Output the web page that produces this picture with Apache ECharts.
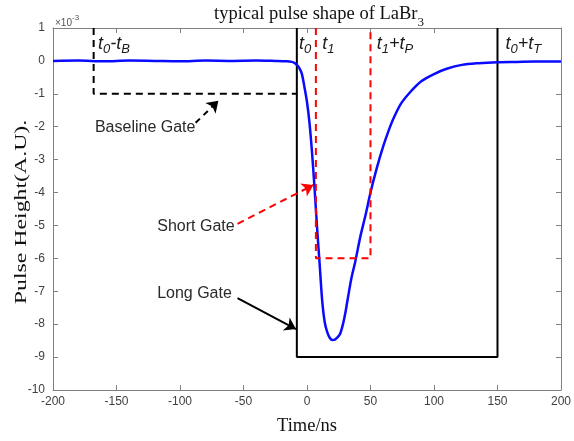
<!DOCTYPE html>
<html>
<head>
<meta charset="utf-8">
<script src="https://cdn.jsdelivr.net/npm/echarts@6/dist/echarts.min.js"></script>
<style>html,body{margin:0;padding:0;background:#fff}#c{width:574px;height:441px}</style>
</head>
<body>
<div id="c"></div>
<script>
// ---- data (time in ns, pulse height in units of 1e-3) ----
const timeNs = [-200,-180,-160,-140,-120,-100,-80,-60,-40,-25,-16,-12,-10,-8,-6,-4,-2,0,2,4,6,8,10,12,14,16,18,20,22,24,26,28,30,32,35,38,42,46,50,55,60,64,68,74,81,90,100,110,122,135,150,165,180,200];
const pulse  = [0,0.01,-0.01,0.01,0,-0.01,0.01,0,0.01,0,-0.01,-0.03,-0.06,-0.12,-0.22,-0.4,-0.8,-1.25,-1.9,-2.8,-3.9,-5.1,-6.2,-7.3,-7.95,-8.25,-8.42,-8.48,-8.47,-8.4,-8.3,-8.05,-7.7,-7.25,-6.6,-6.1,-5.34,-4.7,-4.0,-3.25,-2.6,-2.15,-1.76,-1.3,-0.96,-0.62,-0.4,-0.24,-0.12,-0.07,-0.04,-0.03,-0.02,-0.02];

// gate times (ns)
const t0 = -8, tB = 160, t1 = 7, tP = 43, tT = 158;
const baselineLevel = -1, shortLevel = -6, longLevel = -9;
const topLevel = 1;

const baselineGate = [[t0 - tB, topLevel], [t0 - tB, baselineLevel], [t0, baselineLevel]];
const longGate = [[t0, topLevel], [t0, longLevel], [t0 + tT, longLevel], [t0 + tT, topLevel]];
const shortGate = [[t1, topLevel], [t1, shortLevel], [t1 + tP, shortLevel], [t1 + tP, topLevel]];

const xMin = -200, xMax = 200, xInterval = 50;
const yMin = -10, yMax = 1, yInterval = 1;

const titleText = 'typical pulse shape of LaBr';
const titleSub = '3';
const xName = 'Time/ns';
const yName = 'Pulse Height(A.U).';

const pulseData = timeNs.map((t, i) => [t, pulse[i]]);

const axisColor = '#808080';
const labelColor = '#404040';

const tMain = {fontFamily: 'Liberation Sans', fontStyle: 'italic', fontSize: 18, lineHeight: 20, verticalAlign: 'top', color: '#1a1a1a'};
const tSub = {fontFamily: 'Liberation Sans', fontStyle: 'italic', fontSize: 13, lineHeight: 14, padding: [8, 0, 0, 0], verticalAlign: 'top', color: '#1a1a1a'};

function tLabel(x, y, fmt) {
  return {
    value: [x, y],
    label: {show: true, position: 'inside', align: 'left', verticalAlign: 'top', formatter: fmt, color: '#1a1a1a', rich: {m: tMain, s: tSub}}
  };
}
function gateLabel(x, y, text) {
  return {
    value: [x, y],
    label: {show: true, position: 'inside', align: 'left', verticalAlign: 'middle', formatter: text,
      fontFamily: 'Liberation Sans', fontSize: 16, color: '#2a2a2a'}
  };
}

const axisBase = {
  axisLine: {show: true, onZero: false, lineStyle: {color: axisColor, width: 1}},
  axisTick: {show: true, inside: true, length: 5, lineStyle: {color: axisColor}},
  splitLine: {show: false}
};

const chart = echarts.init(document.getElementById('c'), null, {renderer: 'canvas'});
chart.setOption({
  backgroundColor: '#fff',
  animation: false,
  title: {
    text: '{a|' + titleText + '}{s|' + titleSub + '}',
    left: 314, top: 0, textAlign: 'center',
    textStyle: {
      fontWeight: 'normal',
      rich: {
        a: {fontFamily: 'Liberation Serif', fontWeight: 'normal', fontSize: 18.5, lineHeight: 20, verticalAlign: 'top', color: '#111'},
        s: {fontFamily: 'Liberation Serif', fontWeight: 'normal', fontSize: 13, lineHeight: 13, padding: [11, 0, 0, 0], verticalAlign: 'top', color: '#111'}
      }
    }
  },
  graphic: [{
    type: 'text', left: 55, top: 14,
    style: {
      text: '{a|×10}{b|-3}',
      rich: {
        a: {fontFamily: 'Liberation Sans', fontSize: 10, lineHeight: 12, verticalAlign: 'bottom', fill: '#555'},
        b: {fontFamily: 'Liberation Sans', fontSize: 8, lineHeight: 8, padding: [0, 0, 6, 0], verticalAlign: 'bottom', fill: '#555'}
      }
    }
  }, {
    type: 'text', x: 22, y: 212, rotation: Math.PI / 2, scaleX: 1.4,
    style: {
      text: yName, fontFamily: 'Liberation Serif', fontSize: 17, fill: '#111',
      align: 'center', verticalAlign: 'middle'
    }
  }],
  grid: {left: 53, right: 8, top: 28, bottom: 44, containLabel: false},
  xAxis: [Object.assign({
    type: 'value', min: xMin, max: xMax, interval: xInterval, position: 'bottom',
    name: xName, nameLocation: 'middle', nameGap: 27,
    nameTextStyle: {fontFamily: 'Liberation Serif', fontSize: 18.5, color: '#111'},
    axisLabel: {fontFamily: 'Liberation Sans', fontSize: 12, color: labelColor, margin: 6}
  }, axisBase), Object.assign({
    type: 'value', min: xMin, max: xMax, interval: xInterval, position: 'top',
    axisLabel: {show: false}
  }, axisBase)],
  yAxis: [Object.assign({
    type: 'value', min: yMin, max: yMax, interval: yInterval, position: 'left',
    axisLabel: {fontFamily: 'Liberation Sans', fontSize: 12, color: labelColor, margin: 8}
  }, axisBase), Object.assign({
    type: 'value', min: yMin, max: yMax, interval: yInterval, position: 'right',
    axisLabel: {show: false}
  }, axisBase)],
  series: [
    {type: 'line', data: pulseData, smooth: 0.3, showSymbol: false, symbol: 'none',
      lineStyle: {color: '#0a0aff', width: 2.5}, z: 3},
    {type: 'line', data: baselineGate, showSymbol: false, symbol: 'none',
      lineStyle: {color: '#000', width: 2, type: [7, 5]}, z: 2},
    {type: 'line', data: longGate, showSymbol: false, symbol: 'none',
      lineStyle: {color: '#000', width: 2}, z: 2},
    {type: 'line', data: shortGate, showSymbol: false, symbol: 'none',
      lineStyle: {color: '#ff0000', width: 2, type: [7, 5]}, z: 4},
    {type: 'lines', coordinateSystem: 'cartesian2d', symbol: ['none', 'arrow'], symbolSize: 11,
      lineStyle: {color: '#000', width: 2, type: [6, 5], opacity: 1}, z: 5,
      data: [{coords: [[-87.7, -1.88], [-69.8, -1.21]]}]},
    {type: 'lines', coordinateSystem: 'cartesian2d', symbol: ['none', 'arrow'], symbolSize: 11,
      lineStyle: {color: '#ff0000', width: 2, type: [7, 5], opacity: 1}, z: 5,
      data: [{coords: [[-54.7, -4.95], [5, -3.77]]}]},
    {type: 'lines', coordinateSystem: 'cartesian2d', symbol: ['none', 'arrow'], symbolSize: 11,
      lineStyle: {color: '#000', width: 2, opacity: 1}, z: 5,
      data: [{coords: [[-54.7, -7.21], [-8.7, -8.15]]}]},
    {type: 'scatter', symbolSize: 0, z: 6, silent: true,
      itemStyle: {opacity: 1},
      data: [
        tLabel(-164.5, 0.78, '{m|t}{s|0}{m|-t}{s|B}'),
        tLabel(-6.2, 0.78, '{m|t}{s|0}'),
        tLabel(12.1, 0.78, '{m|t}{s|1}'),
        tLabel(55, 0.78, '{m|t}{s|1}{m|+t}{s|P}'),
        tLabel(156.3, 0.78, '{m|t}{s|0}{m|+t}{s|T}'),
        gateLabel(-167, -2.03, 'Baseline Gate'),
        gateLabel(-117.9, -5.04, 'Short Gate'),
        gateLabel(-118, -7.07, 'Long Gate')
      ]}
  ]
});
</script>
</body>
</html>
